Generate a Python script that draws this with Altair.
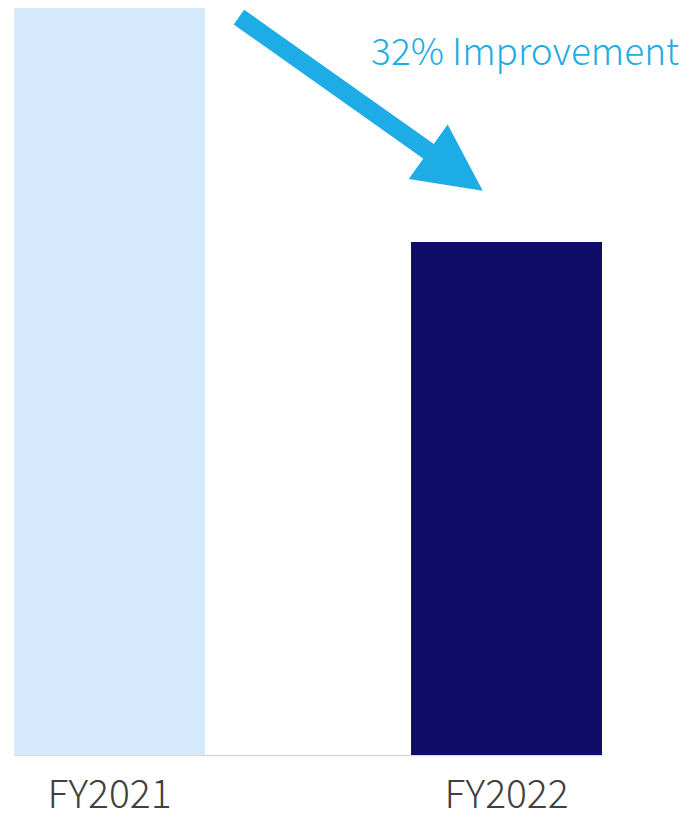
import altair as alt
import pandas as pd

# ---- data ----
years = ["FY2021", "FY2022"]
values = [100, 68]
bar_colors = ["#D5EBFD", "#0F0D68"]

# annotation arrow (x in bar-position units: FY2021 centre = 0, FY2022 centre = 1; y in value units)
arrow_pos = [0.326, 0.820]
arrow_val = [97.8, 79.4]
head_pos = [0.8715]
head_val = [77.36]
note_text = ["32% Improvement"]
note_pos = [0.659]
note_val = [91.45]

FONT = "Noto Sans CJK JP"
CYAN = "#1EACE6"

bars_df = pd.DataFrame({"year": years, "value": values, "color": bar_colors})
arrow_df = pd.DataFrame({"pos": arrow_pos, "value": arrow_val})
head_df = pd.DataFrame({"pos": head_pos, "value": head_val})
note_df = pd.DataFrame({"pos": note_pos, "value": note_val, "text": note_text})

yscale = alt.Scale(domain=[0, 99], nice=False, zero=True)
pos_scale = alt.Scale(domain=[-0.2406, 1.2406], nice=False, zero=False)

bars = alt.Chart(bars_df).mark_bar().encode(
    x=alt.X("year:N", sort=years, title=None,
            scale=alt.Scale(paddingInner=0.519, paddingOuter=0),
            axis=alt.Axis(labelAngle=0, ticks=False, tickSize=0, domain=True,
                          domainColor="#D9D9D9", domainWidth=1.5,
                          labelFont=FONT, labelFontSize=39, labelFontWeight=300,
                          labelColor="#404040", labelPadding=21, grid=False)),
    y=alt.Y("value:Q", scale=yscale, axis=None),
    color=alt.Color("color:N", scale=None, legend=None),
)

shaft = alt.Chart(arrow_df).mark_line(color=CYAN, strokeWidth=18, strokeCap="butt").encode(
    x=alt.X("pos:Q", scale=pos_scale, axis=None),
    y=alt.Y("value:Q", scale=yscale, axis=None),
)

head = alt.Chart(head_df).mark_point(
    shape="M -1 -1 L 1 0 L -1 1 Z", size=4489, angle=35.5,
    filled=True, color=CYAN, opacity=1, strokeWidth=0,
).encode(
    x=alt.X("pos:Q", scale=pos_scale, axis=None),
    y=alt.Y("value:Q", scale=yscale, axis=None),
)

note = alt.Chart(note_df).mark_text(
    align="left", baseline="alphabetic", font=FONT, fontSize=37,
    fontWeight=300, color=CYAN,
).encode(
    x=alt.X("pos:Q", scale=pos_scale, axis=None),
    y=alt.Y("value:Q", scale=yscale, axis=None),
    text="text:N",
)

arrow_layer = alt.layer(shaft, head, note)

chart = alt.layer(bars, arrow_layer).resolve_scale(x="independent").properties(
    width=588, height=747,
    autosize=alt.AutoSizeParams(type="none"),
    padding={"left": 6, "top": 0, "right": 90, "bottom": 80},
).configure_view(stroke=None)

chart.save("out.html", embed_options={"renderer": "svg", "actions": False})
